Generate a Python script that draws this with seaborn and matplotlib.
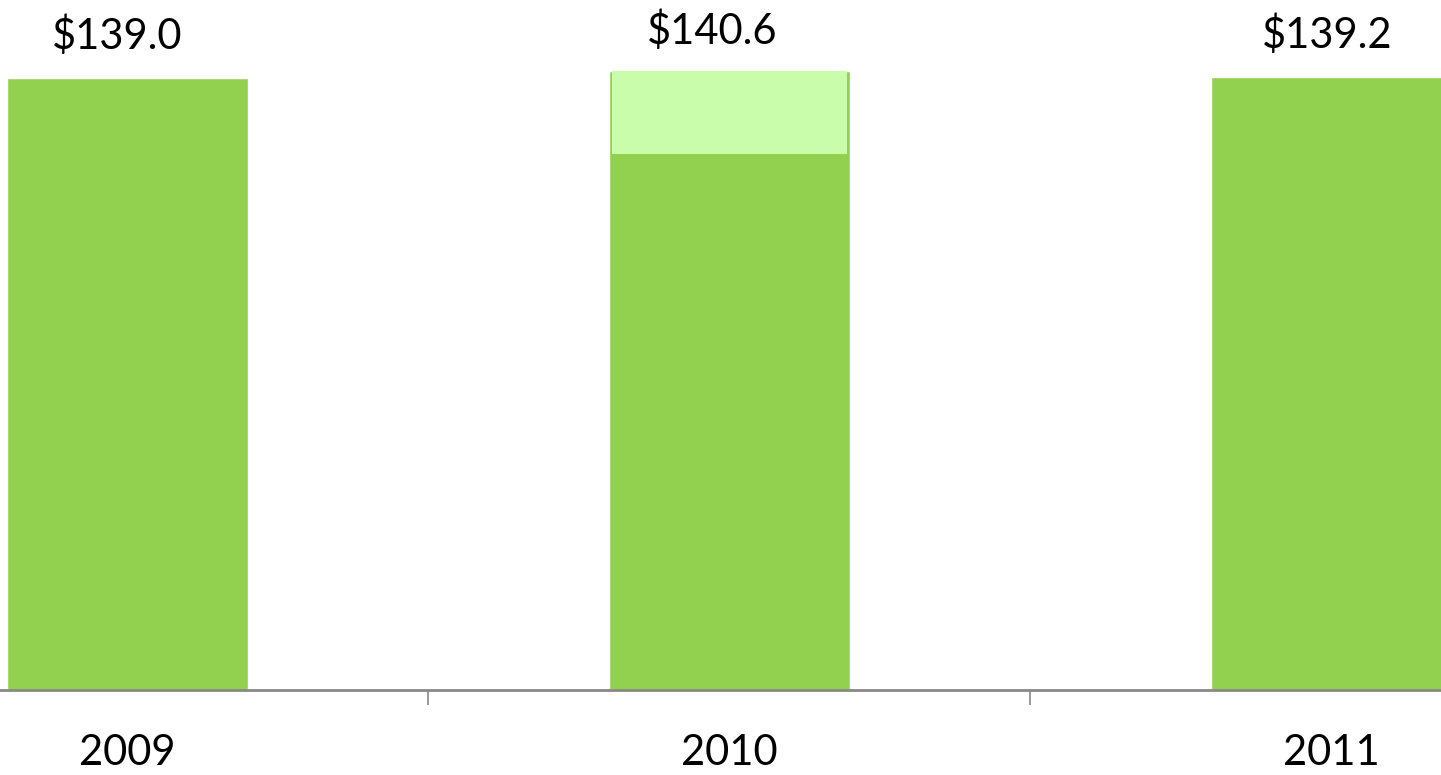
import matplotlib
matplotlib.use('Agg')
import matplotlib.pyplot as plt
import seaborn as sns
import pandas as pd

# データ
years = ['2009', '2010', '2011']
totals = [139.0, 140.6, 139.2]
labels = ['$139.0', '$140.6', '$139.2']
# 2010年の上乗せ部分（薄い緑）
highlight_year = 1
highlight_base = 121.7

bar_color = '#92D050'
light_color = '#C9FDAB'

sns.set_theme(style='white')
plt.rcParams['font.family'] = ['Lato', 'DejaVu Sans']

df = pd.DataFrame({'year': years, 'total': totals})

fig = plt.figure(figsize=(14.41, 7.75), dpi=100)
ax = fig.add_axes([0, 0.1097, 1, 0.8903])

sns.barplot(data=df, x='year', y='total', color=bar_color, saturation=1,
            width=0.40, ax=ax)

# 2010年の増加分
ax.bar(highlight_year, totals[highlight_year] - highlight_base, bottom=highlight_base,
       width=0.39, color=light_color, linewidth=0)

# 値ラベル
label_dx = [-10, -17, -4]
label_dy = [42, 40, 42]
for i, (v, lab) in enumerate(zip(totals, labels)):
    ax.annotate(lab, xy=(i, v), xytext=(label_dx[i], label_dy[i]),
                textcoords='offset pixels', ha='center', va='center',
                fontsize=30, color='black', annotation_clip=False)

ax.set_xlim(-0.2118, 2.182)
ax.set_ylim(0, 156.7)
ax.set_xlabel('')
ax.set_ylabel('')
ax.set_yticks([])

for s in ['top', 'right', 'left']:
    ax.spines[s].set_visible(False)
ax.spines['bottom'].set_color('#888888')
ax.spines['bottom'].set_linewidth(2)

ax.tick_params(axis='x', which='major', length=0, pad=32, labelsize=30,
               labelcolor='black')
ax.set_xticks([0.5, 1.5], minor=True)
ax.tick_params(axis='x', which='minor', length=11, width=1.2,
               color='#888888', direction='out', bottom=True)

fig.savefig('out.png', dpi=100)
